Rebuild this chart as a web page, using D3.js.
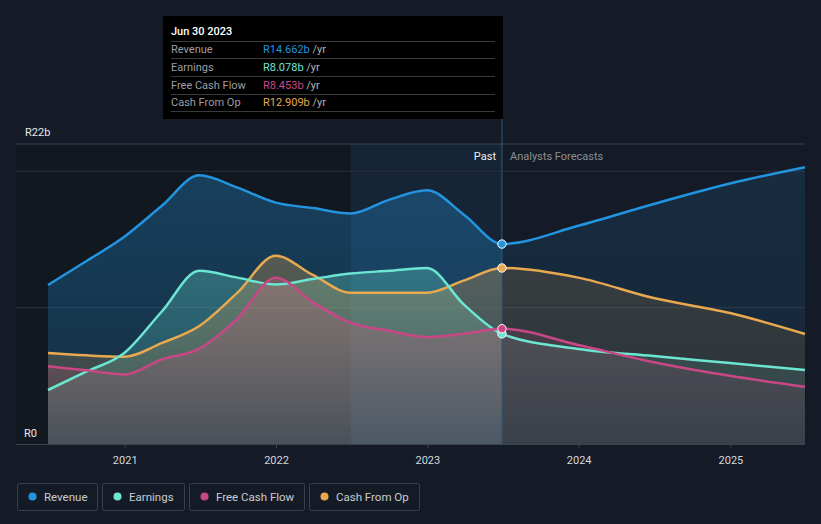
<!DOCTYPE html>
<html><head><meta charset="utf-8">
<script src="https://cdn.jsdelivr.net/npm/d3@7/dist/d3.min.js"></script>
<style>
html,body{margin:0;padding:0;background:#151b26;}
svg{display:block;font-family:Roboto,"Noto Sans",sans-serif;}
</style></head>
<body><svg id="c" width="821" height="524"></svg>
<script>
const dates = ["2020-06-30","2020-09-30","2020-12-31","2021-03-31","2021-06-30","2021-09-30","2021-12-31","2022-03-31","2022-06-30","2022-09-30","2022-12-31","2023-03-31","2023-06-30","2023-12-31","2024-06-30","2024-12-31","2025-06-30"];
const revenue  = [11.66,13.4,15.2,17.45,19.7,18.8,17.7,17.3,16.9,17.9,18.6,16.8,14.662,16.0,17.6,19.1,20.3];
const earnings = [3.96,5.3,6.67,9.7,12.7,12.2,11.7,12.1,12.5,12.7,12.9,10.2,8.078,6.97,6.45,5.94,5.43];
const fcf      = [5.7,5.4,5.1,6.2,7.0,9.2,12.2,10.4,8.9,8.3,7.85,8.1,8.453,7.26,6.0,5.0,4.2];
const cfo      = [6.67,6.5,6.4,7.4,8.65,11.1,13.8,12.4,11.1,11.1,11.1,12.0,12.909,12.2,10.7,9.6,8.07];
const seriesNames = ["Revenue","Earnings","Free Cash Flow","Cash From Op"];
const seriesColors = ["#2394df","#6ce5d2","#c94787","#e8a94f"];
const tooltipValues = ["R14.662b","R8.078b","R8.453b","R12.909b"];
const yearTicks = ["2021","2022","2023","2024","2025"];
const yTickLabels = ["R0","R22b"];

const svg = d3.select("#c");
const parse = d3.timeParse("%Y-%m-%d");
const D = dates.map(parse);
const x = d3.scaleTime().domain([parse("2020-06-30"), parse("2025-06-30")]).range([48, 805]);
const y = d3.scaleLinear().domain([0, 22]).range([444, 144]);
const nowDate = parse("2023-06-30");
const bandStart = parse("2022-06-30");

const defs = svg.append("defs");
seriesColors.forEach((c, i) => {
  const g = defs.append("linearGradient").attr("id", "g" + i).attr("x1", 0).attr("y1", 0).attr("x2", 0).attr("y2", 1);
  g.append("stop").attr("offset", "0%").attr("stop-color", c).attr("stop-opacity", i === 0 ? 0.32 : 0.3);
  g.append("stop").attr("offset", "100%").attr("stop-color", c).attr("stop-opacity", i === 0 ? 0.18 : 0.12);
  const f = defs.append("linearGradient").attr("id", "f" + i).attr("x1", 0).attr("y1", 0).attr("x2", 0).attr("y2", 1);
  f.append("stop").attr("offset", "0%").attr("stop-color", c).attr("stop-opacity", i === 0 ? 0.14 : 0.16);
  f.append("stop").attr("offset", "100%").attr("stop-color", c).attr("stop-opacity", i === 0 ? 0.09 : 0.08);
});
defs.append("clipPath").attr("id", "cpast").append("rect").attr("x", 0).attr("y", 0).attr("width", x(nowDate)).attr("height", 524);
defs.append("clipPath").attr("id", "cfut").append("rect").attr("x", x(nowDate)).attr("y", 0).attr("width", 821).attr("height", 524);

// darker plot bg for past
svg.append("rect").attr("x", 16).attr("y", 144).attr("width", x(bandStart) - 16).attr("height", 300).attr("fill", "#121820");
// highlight band last year
svg.append("rect").attr("x", x(bandStart)).attr("y", 144).attr("width", x(nowDate) - x(bandStart)).attr("height", 300).attr("fill", "#1a3a52").attr("opacity", 0.35);

// grid
[10, 20].forEach(v => svg.append("line").attr("x1", 16).attr("x2", 805).attr("y1", y(v)).attr("y2", y(v)).attr("stroke", "#2b313c").attr("stroke-width", 1));
svg.append("line").attr("x1", 16).attr("x2", 805).attr("y1", y(22)).attr("y2", y(22)).attr("stroke", "#3d434d").attr("stroke-width", 1);

const all = [revenue, earnings, fcf, cfo];
const area = d3.area().x((d, i) => x(D[i])).y0(y(0)).y1(d => y(d)).curve(d3.curveMonotoneX);
const line = d3.line().x((d, i) => x(D[i])).y(d => y(d)).curve(d3.curveMonotoneX);

all.forEach((s, i) => {
  svg.append("path").attr("d", area(s)).attr("fill", "url(#g" + i + ")").attr("clip-path", "url(#cpast)");
  svg.append("path").attr("d", area(s)).attr("fill", "url(#f" + i + ")").attr("clip-path", "url(#cfut)");
});
[0, 3, 1, 2].forEach(i => {
  svg.append("path").attr("d", line(all[i])).attr("fill", "none").attr("stroke", seriesColors[i]).attr("stroke-width", 2.5);
});

// now line
svg.append("line").attr("x1", x(nowDate)).attr("x2", x(nowDate)).attr("y1", 119).attr("y2", 444).attr("stroke", "#2d5a80").attr("stroke-width", 1);

// markers
const nowIdx = 12;
[0, 3, 1, 2].forEach(i => {
  svg.append("circle").attr("cx", x(nowDate)).attr("cy", y(all[i][nowIdx])).attr("r", 4.2)
    .attr("fill", seriesColors[i]).attr("stroke", "#ffffff").attr("stroke-width", 1);
});

// x axis
svg.append("line").attr("x1", 16).attr("x2", 805).attr("y1", 444.5).attr("y2", 444.5).attr("stroke", "#3d434d");
const xa = svg.append("g").attr("transform", "translate(0,444)")
  .call(d3.axisBottom(x).tickValues(yearTicks.map(t => parse(t + "-01-01"))).tickSize(4).tickFormat(d3.timeFormat("%Y")));
xa.select(".domain").remove();
xa.selectAll("line").attr("stroke", "#3d434d");
xa.selectAll("text").attr("fill", "#d5d8dd").attr("font-size", 11).attr("dy", "1.2em").attr("font-family", "Roboto,sans-serif");

svg.append("text").attr("x", 25).attr("y", 136).attr("fill", "#e6e8eb").attr("font-size", 11).text(yTickLabels[1]);
svg.append("text").attr("x", 24).attr("y", 437).attr("fill", "#e6e8eb").attr("font-size", 11).text(yTickLabels[0]);

svg.append("text").attr("x", 496).attr("y", 160).attr("text-anchor", "end").attr("fill", "#eeeeee").attr("font-size", 11).text("Past");
svg.append("text").attr("x", 510).attr("y", 160).attr("fill", "#8a8f98").attr("font-size", 11).text("Analysts Forecasts");

// tooltip
const tt = svg.append("g");
tt.append("rect").attr("x", 163).attr("y", 16).attr("width", 340).attr("height", 103).attr("fill", "#000000");
tt.append("text").attr("x", 171).attr("y", 35).attr("fill", "#ffffff").attr("font-size", 11).attr("font-weight", 500).text("Jun 30 2023");
const rowY = [49, 67, 85, 102];
[41, 58, 76, 94, 111].forEach(v => tt.append("line").attr("x1", 171).attr("x2", 495).attr("y1", v + 0.5).attr("y2", v + 0.5).attr("stroke", "#3a3a3a"));
seriesNames.forEach((n, i) => {
  tt.append("text").attr("x", 171).attr("y", rowY[i] + 4).attr("fill", "#9a9ea4").attr("font-size", 11).text(n);
  const t = tt.append("text").attr("x", 263).attr("y", rowY[i] + 4).attr("font-size", 11);
  t.append("tspan").attr("fill", seriesColors[i]).text(tooltipValues[i]);
  t.append("tspan").attr("fill", "#b0b3b8").text(" /yr");
});

// legend
const lx = [17, 102, 189, 309], lw = [80, 82, 115, 110];
seriesNames.forEach((n, i) => {
  const g = svg.append("g").attr("transform", `translate(${lx[i]},483)`);
  g.append("rect").attr("x", 0.5).attr("y", 0.5).attr("width", lw[i]).attr("height", 27).attr("rx", 2).attr("fill", "none").attr("stroke", "#3a3f4a");
  g.append("circle").attr("cx", 15.5).attr("cy", 13.5).attr("r", 4).attr("fill", seriesColors[i]);
  g.append("text").attr("x", 27).attr("y", 17.5).attr("fill", "#c9ccd1").attr("font-size", 11.5).text(n);
});
</script></body></html>
